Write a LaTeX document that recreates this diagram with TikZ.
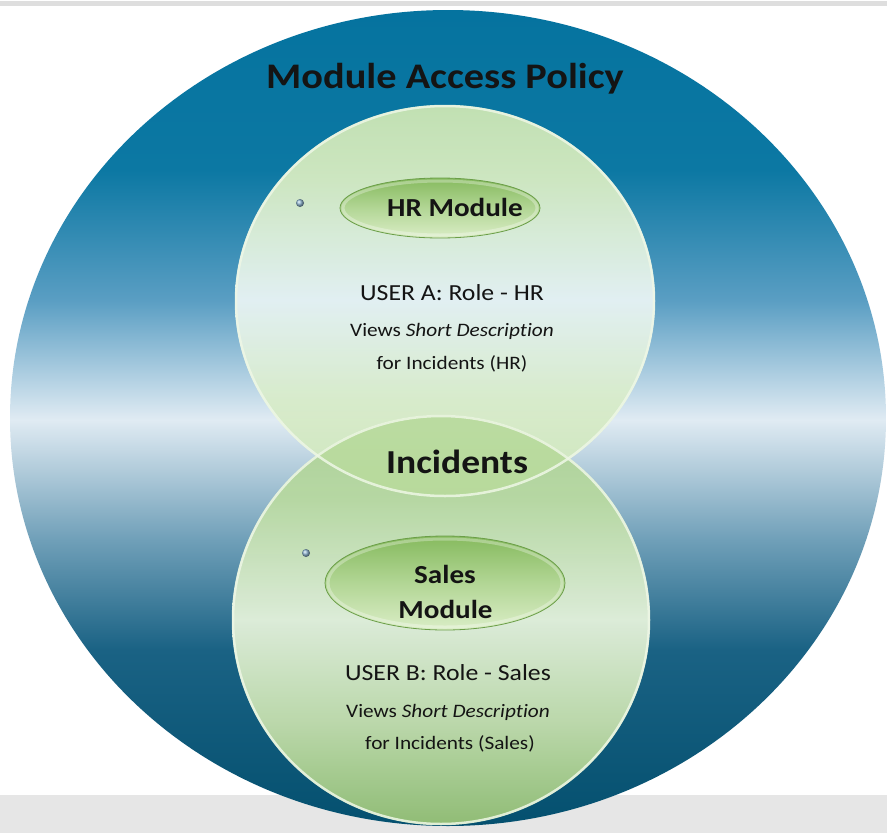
\documentclass[tikz,border=0pt]{standalone}
\usepackage{fontspec}
\setmainfont{Carlito}[FakeStretch=1.12,Ligatures={NoCommon}]
\usetikzlibrary{shapes.geometric}
\definecolor{bandgray}{HTML}{E6E6E6}
\definecolor{linegray}{HTML}{DEDEDE}
\definecolor{txt}{HTML}{141414}
\definecolor{pb0}{HTML}{05739F}
\definecolor{pb1}{HTML}{0C78A3}
\definecolor{pb2}{HTML}{5A9EC3}
\definecolor{pb3}{HTML}{E0EBF3}
\definecolor{pb4}{HTML}{6F9FB8}
\definecolor{pb5}{HTML}{1A6284}
\definecolor{pb6}{HTML}{04506F}
\definecolor{ua0}{HTML}{C9E5B3}
\definecolor{ua1}{HTML}{D5EBC3}
\definecolor{ua2}{HTML}{E7F3F4}
\definecolor{ua3}{HTML}{D8ECCA}
\definecolor{ua4}{HTML}{CFE7BC}
\definecolor{lb0}{HTML}{ABD095}
\definecolor{lb1}{HTML}{B8D9A2}
\definecolor{lb2}{HTML}{E3F1DB}
\definecolor{lb3}{HTML}{C3DEAE}
\definecolor{lb4}{HTML}{96C176}
\definecolor{lens}{HTML}{A6D083}
\definecolor{md0}{HTML}{86BA5E}
\definecolor{md1}{HTML}{B2D695}
\definecolor{md2}{HTML}{DAEDC6}
\definecolor{rim}{HTML}{EEF7E6}
\definecolor{mdrim}{HTML}{6B9E48}
\definecolor{dotblue}{HTML}{8DB4D0}
\pgfdeclareverticalshading{policyshade}{100bp}{color(0bp)=(pb6); color(25bp)=(pb6); color(35.8bp)=(pb5); color(42.5bp)=(pb4); color(49.9bp)=(pb3); color(57.2bp)=(pb2); color(65.2bp)=(pb1); color(75bp)=(pb0); color(100bp)=(pb0)}
\pgfdeclareverticalshading{uppershade}{100bp}{color(0bp)=(ua4); color(25bp)=(ua4); color(37.4bp)=(ua3); color(50.1bp)=(ua2); color(65.4bp)=(ua1); color(75bp)=(ua0); color(100bp)=(ua0)}
\pgfdeclareverticalshading{lowershade}{100bp}{color(0bp)=(lb4); color(25bp)=(lb4); color(37.8bp)=(lb3); color(50bp)=(lb2); color(64.6bp)=(lb1); color(75bp)=(lb0); color(100bp)=(lb0)}
\pgfdeclareverticalshading{moduleshade}{100bp}{color(0bp)=(md2); color(25bp)=(md2); color(50bp)=(md1); color(75bp)=(md0); color(100bp)=(md0)}
\tikzset{
  policy/.style={ellipse, inner sep=0pt, shade, shading=policyshade},
  areacircle/.style={ellipse, inner sep=0pt, shade, fill opacity=0.96},
  arearim/.style={draw=rim, line width=2.5pt, draw opacity=0.85},
  modulebox/.style={ellipse, inner sep=0pt, shade, shading=moduleshade, draw=mdrim, line width=0.8pt},
  modglow/.style={draw=white, line width=3pt, draw opacity=0.3},
  dotball/.style={circle, inner sep=0pt, minimum size=8pt, ball color=dotblue},
  lbl/.style={anchor=base, inner sep=0pt, text=txt, align=center},
  titletxt/.style={lbl, font=\fontsize{36}{40}\selectfont\bfseries},
  bigtxt/.style={lbl, font=\fontsize{33.5}{38}\selectfont\bfseries},
  modtxt/.style={lbl, font=\fontsize{26}{35}\selectfont\bfseries},
  usertxt/.style={lbl, font=\fontsize{23}{28}\selectfont},
  desctxt/.style={lbl, font=\fontsize{19}{24}\selectfont}
}
\begin{document}
\begin{tikzpicture}[x=1pt,y=-1pt]
\useasboundingbox (0,0) rectangle (887,833);
\fill[white] (0,0) rectangle (887,833);
\fill[linegray] (0,1) rectangle (887,6);
\fill[bandgray] (0,795) rectangle (887,833);
% outer policy ellipse
\node[policy, minimum width=876pt, minimum height=816pt] (pol) at (448,418) {};
% lower and upper circles
\node[areacircle, shading=lowershade, minimum width=418pt, minimum height=410pt] (low) at (441,620) {};
\node[areacircle, shading=uppershade, minimum width=420pt, minimum height=392pt] (up) at (445,301) {};
% overlap lens
\begin{scope}
  \clip (445,301) ellipse [x radius=210pt, y radius=196pt];
  \fill[lens, fill opacity=0.55] (441,620) ellipse [x radius=209pt, y radius=205pt];
\end{scope}
% rims
\draw[arearim] (441,620) ellipse [x radius=208pt, y radius=204pt];
\draw[arearim] (445,301) ellipse [x radius=209pt, y radius=195pt];
% module ellipses
\node[modulebox, minimum width=200pt, minimum height=60pt] (hrm) at (440,208) {};
\draw[modglow] (440,208) ellipse [x radius=97pt, y radius=27pt];
\node[modulebox, minimum width=240pt, minimum height=94pt] (slm) at (445,583) {};
\draw[modglow] (445,583) ellipse [x radius=117pt, y radius=44pt];
% small dots
\node[dotball] (dot1) at (300,203) {};
\node[dotball] (dot2) at (306,553) {};
% texts
\node[titletxt] (title) at (445,88) {Module Access Policy};
\node[modtxt] (hrlbl) at (455,216) {HR Module};
\node[usertxt] (usera) at (452,300) {USER A: Role - HR};
\node[desctxt] (viewa) at (452,336) {Views \textit{Short Description}};
\node[desctxt] (fora) at (452,369) {for Incidents (HR)};
\node[bigtxt] (inc) at (457,473) {Incidents};
\node[modtxt] (sales1) at (445,583) {Sales};
\node[modtxt] (sales2) at (445.5,618) {Module};
\node[usertxt] (userb) at (448,680) {USER B: Role - Sales};
\node[desctxt] (viewb) at (448,717) {Views \textit{Short Description}};
\node[desctxt] (forb) at (450,749) {for Incidents (Sales)};
\end{tikzpicture}
\end{document}
